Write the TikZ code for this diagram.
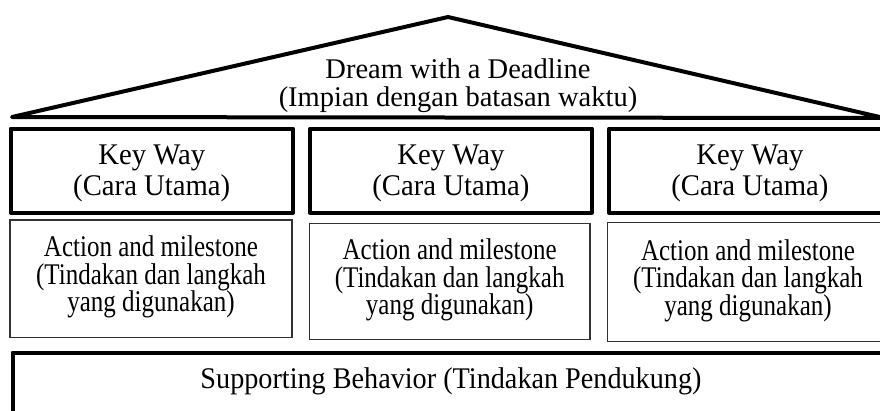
\documentclass[tikz,border=0pt]{standalone}
\usepackage{fontspec}
\setmainfont{Liberation Serif}
\newfontfamily\rooffont{Liberation Serif}
\newfontfamily\kwfont[FakeStretch=0.957]{Liberation Serif}
\newfontfamily\acfont[FakeStretch=0.834]{Liberation Serif}
\newfontfamily\supfont[FakeStretch=0.94]{Liberation Serif}
\begin{document}
\begin{tikzpicture}[x=1pt,y=-1pt,
  rooftext/.style={align=center,inner sep=0pt,font={\rooffont\fontsize{28.5}{28.7}\selectfont}},
  kwtext/.style={align=center,inner sep=0pt,font={\kwfont\fontsize{30}{31}\selectfont}},
  actext/.style={align=center,inner sep=0pt,font={\acfont\fontsize{30}{27.5}\selectfont}},
  suptext/.style={align=center,inner sep=0pt,font={\supfont\fontsize{30}{31}\selectfont}},
  thickbox/.style={draw=black,line width=4pt,line join=round,inner sep=0pt},
  thinbox/.style={draw=black!80,line width=1.3pt,inner sep=0pt},
  roofline/.style={draw=black,line width=4pt,line join=round,line cap=round}]
\useasboundingbox (0,0) rectangle (880,410);
% roof
\draw[roofline] (12,117) -- (448,17) -- (884,118) -- cycle;
\node[rooftext] (roof) at (458,85.7) {Dream with a Deadline\\(Impian dengan batasan waktu)};
% key ways
\node[thickbox,minimum width=282.5pt,minimum height=84pt] (kw1) at (151.75,170.5) {};
\node[thickbox,minimum width=282pt,minimum height=84pt] (kw2) at (450.9,170.5) {};
\node[thickbox,minimum width=282pt,minimum height=84pt] (kw3) at (749.9,170.5) {};
\node[kwtext] (kw1t) at ([yshift=-2.7pt]kw1.center) {Key Way\\(Cara Utama)};
\node[kwtext] (kw2t) at ([yshift=-2.7pt]kw2.center) {Key Way\\(Cara Utama)};
\node[kwtext] (kw3t) at ([yshift=-2.7pt]kw3.center) {Key Way\\(Cara Utama)};
% actions
\node[thinbox,minimum width=282pt,minimum height=117.7pt] (ac1) at (151,278.85) {};
\node[thinbox,minimum width=280.7pt,minimum height=116.4pt] (ac2) at (449.65,281.5) {};
\node[thinbox,minimum width=280.6pt,minimum height=119.4pt] (ac3) at (748,282) {};
\node[actext] (ac1t) at ([yshift=1.6pt]ac1.center) {Action and milestone\\(Tindakan dan langkah\\yang digunakan)};
\node[actext] (ac2t) at ([yshift=1.6pt]ac2.center) {Action and milestone\\(Tindakan dan langkah\\yang digunakan)};
\node[actext] (ac3t) at ([yshift=1.6pt]ac3.center) {Action and milestone\\(Tindakan dan langkah\\yang digunakan)};
% supporting
\node[thickbox,minimum width=877pt,minimum height=63pt] (sup) at (451,384) {};
\node[suptext] (supt) at ([yshift=2.7pt]sup.center) {Supporting Behavior (Tindakan Pendukung)};
\end{tikzpicture}
\end{document}
